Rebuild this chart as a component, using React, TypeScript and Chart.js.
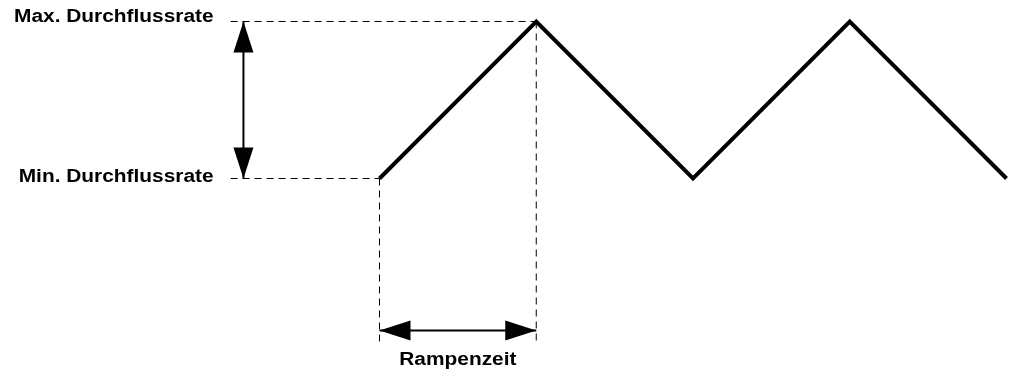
import React, { useEffect, useRef } from "react";
import { Chart, registerables } from "chart.js";

Chart.register(...registerables);

// Triangle ramp: time in ramp units, flow level (0 = min, 1 = max)
const rampTimes = [0, 1, 2, 3, 4];
const flowLevels = [0, 1, 0, 1, 0];

// Reference levels and their labels
const rateValues = [0, 1];
const rateLabels = ["Min. Durchflussrate", "Max. Durchflussrate"];

// Ramp time interval (start, end) and its label
const rampInterval = [0, 1];
const rampLabel = "Rampenzeit";

// Layout constants (data units)
const X_MIN = -2.4211;
const X_MAX = 4.0414;
const Y_MIN = -1.2771;
const Y_MAX = 1.1369;
const GUIDE_LEFT = -0.95; // where horizontal dashed guides start
const GUIDE_BOTTOM = -1.064; // where vertical dashed guides end
const V_ARROW_X = -0.868;
const H_ARROW_Y = -0.968;

const FONT = 'bold 18px "Liberation Sans", Arial, sans-serif';
const TEXT_STRETCH = 1.16;

function drawArrowHead(ctx: CanvasRenderingContext2D, tx: number, ty: number, dx: number, dy: number, len: number, half: number) {
  const bx = tx - dx * len;
  const by = ty - dy * len;
  const px = -dy;
  const py = dx;
  ctx.beginPath();
  ctx.moveTo(tx, ty);
  ctx.lineTo(bx + px * half, by + py * half);
  ctx.lineTo(bx - px * half, by - py * half);
  ctx.closePath();
  ctx.fill();
}

function drawDoubleArrow(ctx: CanvasRenderingContext2D, x1: number, y1: number, x2: number, y2: number) {
  const L = Math.hypot(x2 - x1, y2 - y1);
  const dx = (x2 - x1) / L;
  const dy = (y2 - y1) / L;
  ctx.beginPath();
  ctx.moveTo(x1, y1);
  ctx.lineTo(x2, y2);
  ctx.stroke();
  drawArrowHead(ctx, x2, y2, dx, dy, 31, 10);
  drawArrowHead(ctx, x1, y1, -dx, -dy, 31, 10);
}

function drawStretchedText(ctx: CanvasRenderingContext2D, text: string, x: number, y: number, align: "left" | "right" | "center") {
  ctx.save();
  ctx.font = FONT;
  ctx.textBaseline = "alphabetic";
  ctx.textAlign = align;
  ctx.translate(x, y);
  ctx.scale(TEXT_STRETCH, 1);
  ctx.fillText(text, 0, 0);
  ctx.restore();
}

const annotationPlugin = {
  id: "rampAnnotations",
  afterDatasetsDraw(chart: any) {
    const ctx: CanvasRenderingContext2D = chart.ctx;
    const xs = chart.scales.x;
    const ys = chart.scales.y;
    ctx.save();
    ctx.fillStyle = "#000";
    ctx.strokeStyle = "#000";
    ctx.lineWidth = 2;
    ctx.setLineDash([]);

    const vx = xs.getPixelForValue(V_ARROW_X);
    drawDoubleArrow(ctx, vx, ys.getPixelForValue(rateValues[1]), vx, ys.getPixelForValue(rateValues[0]));

    const hy = ys.getPixelForValue(H_ARROW_Y);
    drawDoubleArrow(ctx, xs.getPixelForValue(rampInterval[0]), hy, xs.getPixelForValue(rampInterval[1]), hy);

    const labelRight = xs.getPixelForValue(GUIDE_LEFT) - 17;
    drawStretchedText(ctx, rateLabels[1], labelRight, ys.getPixelForValue(rateValues[1]) + 0.5, "right");
    drawStretchedText(ctx, rateLabels[0], labelRight, ys.getPixelForValue(rateValues[0]) + 3.5, "right");
    const midX = (xs.getPixelForValue(rampInterval[0]) + xs.getPixelForValue(rampInterval[1])) / 2;
    drawStretchedText(ctx, rampLabel, midX, hy + 35, "center");
    ctx.restore();
  },
};

export default function App() {
  const canvasRef = useRef<HTMLCanvasElement | null>(null);

  useEffect(() => {
    if (!canvasRef.current) return;
    const dashed = {
      borderColor: "#000",
      borderWidth: 1,
      borderDash: [7, 5],
      pointRadius: 0,
      fill: false,
      tension: 0,
    };
    const chart = new Chart(canvasRef.current, {
      type: "line",
      data: {
        datasets: [
          {
            ...dashed,
            data: [
              { x: GUIDE_LEFT, y: rateValues[1] },
              { x: rampInterval[1], y: rateValues[1] },
            ],
          },
          {
            ...dashed,
            data: [
              { x: GUIDE_LEFT, y: rateValues[0] },
              { x: rampInterval[0], y: rateValues[0] },
            ],
          },
          {
            ...dashed,
            data: [
              { x: rampInterval[0], y: rateValues[0] },
              { x: rampInterval[0], y: GUIDE_BOTTOM },
            ],
          },
          {
            ...dashed,
            data: [
              { x: rampInterval[1], y: rateValues[1] },
              { x: rampInterval[1], y: GUIDE_BOTTOM },
            ],
          },
          {
            data: rampTimes.map((t, i) => ({ x: t, y: flowLevels[i] })),
            borderColor: "#000",
            borderWidth: 4,
            borderJoinStyle: "miter",
            pointRadius: 0,
            fill: false,
            tension: 0,
          },
        ],
      },
      options: {
        animation: false,
        responsive: true,
        maintainAspectRatio: false,
        layout: { padding: 0 },
        plugins: { legend: { display: false }, tooltip: { enabled: false } },
        scales: {
          x: { type: "linear", min: X_MIN, max: X_MAX, display: false },
          y: { type: "linear", min: Y_MIN, max: Y_MAX, display: false },
        },
      },
      plugins: [annotationPlugin],
    } as any);
    return () => chart.destroy();
  }, []);

  return (
    <div style={{ position: "fixed", left: 0, top: 0, width: 1013, height: 379, background: "#fff" }}>
      <canvas ref={canvasRef} />
    </div>
  );
}
